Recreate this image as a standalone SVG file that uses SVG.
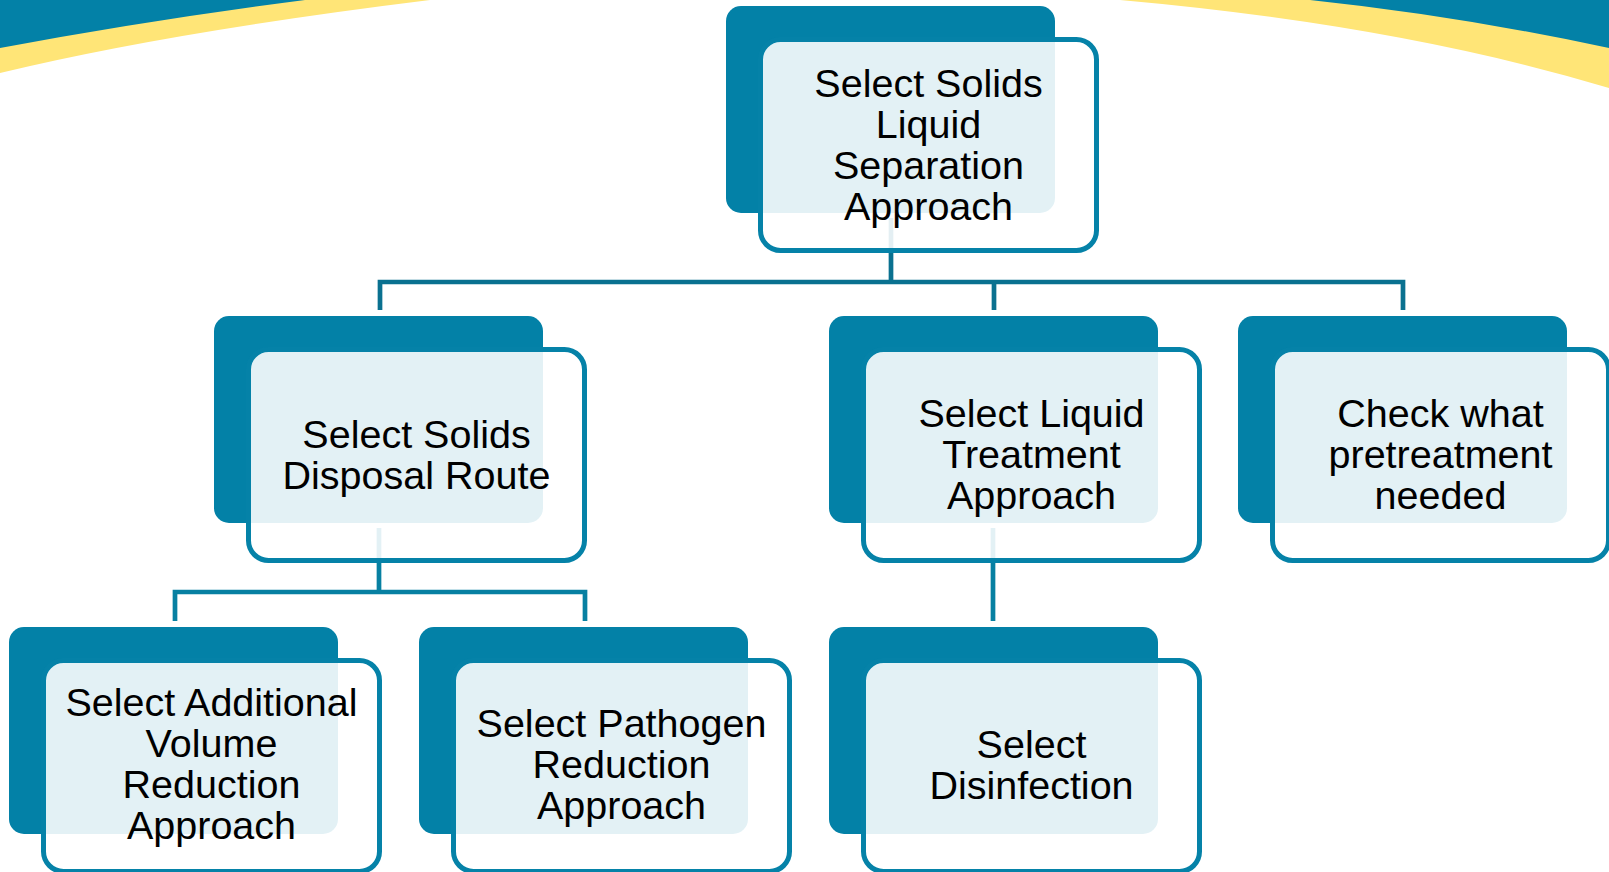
<svg xmlns="http://www.w3.org/2000/svg" width="1609" height="872" viewBox="0 0 1609 872">
<style>
.dark{fill:#0381A7}
.box{fill:#ffffff;fill-opacity:0.89;stroke:#0582A8;stroke-width:5}
.lbl{font-family:"Liberation Sans",Arial,sans-serif;font-size:39.5px;fill:#000000;text-anchor:middle}
.conn{fill:none;stroke-width:4.7;stroke-linejoin:miter;stroke-linecap:butt}
</style>
<rect width="1609" height="872" fill="#ffffff"/>
<g id="background">
<path d="M0,0 L430,0 Q170,32 0,73 Z" fill="#FFE577"/>
<path d="M0,0 L305,0 Q150,20 0,48 Z" fill="#0381A7"/>
<path d="M1120,0 L1609,0 L1609,88 Q1400,25 1120,0 Z" fill="#FFE577"/>
<path d="M1310,0 L1609,0 L1609,48 Q1460,16 1310,0 Z" fill="#0381A7"/>
</g>
<g id="connectors">
<path class="conn" stroke="#0A7190" d="M891,218 V282 M380,310 V282 H1403 V310 M994,282 V310"/>
<path class="conn" stroke="#0780A2" d="M379,528 V592 M175,621 V592 H585 V621"/>
<path class="conn" stroke="#0780A2" d="M993,528 V621"/>
</g>
<g id="node-solids-liquid-separation">
<rect class="dark" x="726" y="6" width="329" height="207" rx="15"/>
<rect class="box" x="760.5" y="39.5" width="336" height="211" rx="20"/>
<text class="lbl" x="928.5" y="96.5"><tspan x="928.5">Select Solids</tspan><tspan x="928.5" dy="41">Liquid</tspan><tspan x="928.5" dy="41">Separation</tspan><tspan x="928.5" dy="41">Approach</tspan></text>
</g>
<g id="node-solids-disposal">
<rect class="dark" x="214" y="316" width="329" height="207" rx="15"/>
<rect class="box" x="248.5" y="349.5" width="336" height="211" rx="20"/>
<text class="lbl" x="416.5" y="447.5"><tspan x="416.5">Select Solids</tspan><tspan x="416.5" dy="41">Disposal Route</tspan></text>
</g>
<g id="node-liquid-treatment">
<rect class="dark" x="829" y="316" width="329" height="207" rx="15"/>
<rect class="box" x="863.5" y="349.5" width="336" height="211" rx="20"/>
<text class="lbl" x="1031.5" y="427"><tspan x="1031.5">Select Liquid</tspan><tspan x="1031.5" dy="41">Treatment</tspan><tspan x="1031.5" dy="41">Approach</tspan></text>
</g>
<g id="node-pretreatment">
<rect class="dark" x="1238" y="316" width="329" height="207" rx="15"/>
<rect class="box" x="1272.5" y="349.5" width="336" height="211" rx="20"/>
<text class="lbl" x="1440.5" y="427"><tspan x="1440.5">Check what</tspan><tspan x="1440.5" dy="41">pretreatment</tspan><tspan x="1440.5" dy="41">needed</tspan></text>
</g>
<g id="node-volume-reduction">
<rect class="dark" x="9" y="627" width="329" height="207" rx="15"/>
<rect class="box" x="43.5" y="660.5" width="336" height="211" rx="20"/>
<text class="lbl" x="211.5" y="716"><tspan x="211.5">Select Additional</tspan><tspan x="211.5" dy="41">Volume</tspan><tspan x="211.5" dy="41">Reduction</tspan><tspan x="211.5" dy="41">Approach</tspan></text>
</g>
<g id="node-pathogen-reduction">
<rect class="dark" x="419" y="627" width="329" height="207" rx="15"/>
<rect class="box" x="453.5" y="660.5" width="336" height="211" rx="20"/>
<text class="lbl" x="621.5" y="737"><tspan x="621.5">Select Pathogen</tspan><tspan x="621.5" dy="41">Reduction</tspan><tspan x="621.5" dy="41">Approach</tspan></text>
</g>
<g id="node-disinfection">
<rect class="dark" x="829" y="627" width="329" height="207" rx="15"/>
<rect class="box" x="863.5" y="660.5" width="336" height="211" rx="20"/>
<text class="lbl" x="1031.5" y="757.5"><tspan x="1031.5">Select</tspan><tspan x="1031.5" dy="41">Disinfection</tspan></text>
</g>
</svg>
